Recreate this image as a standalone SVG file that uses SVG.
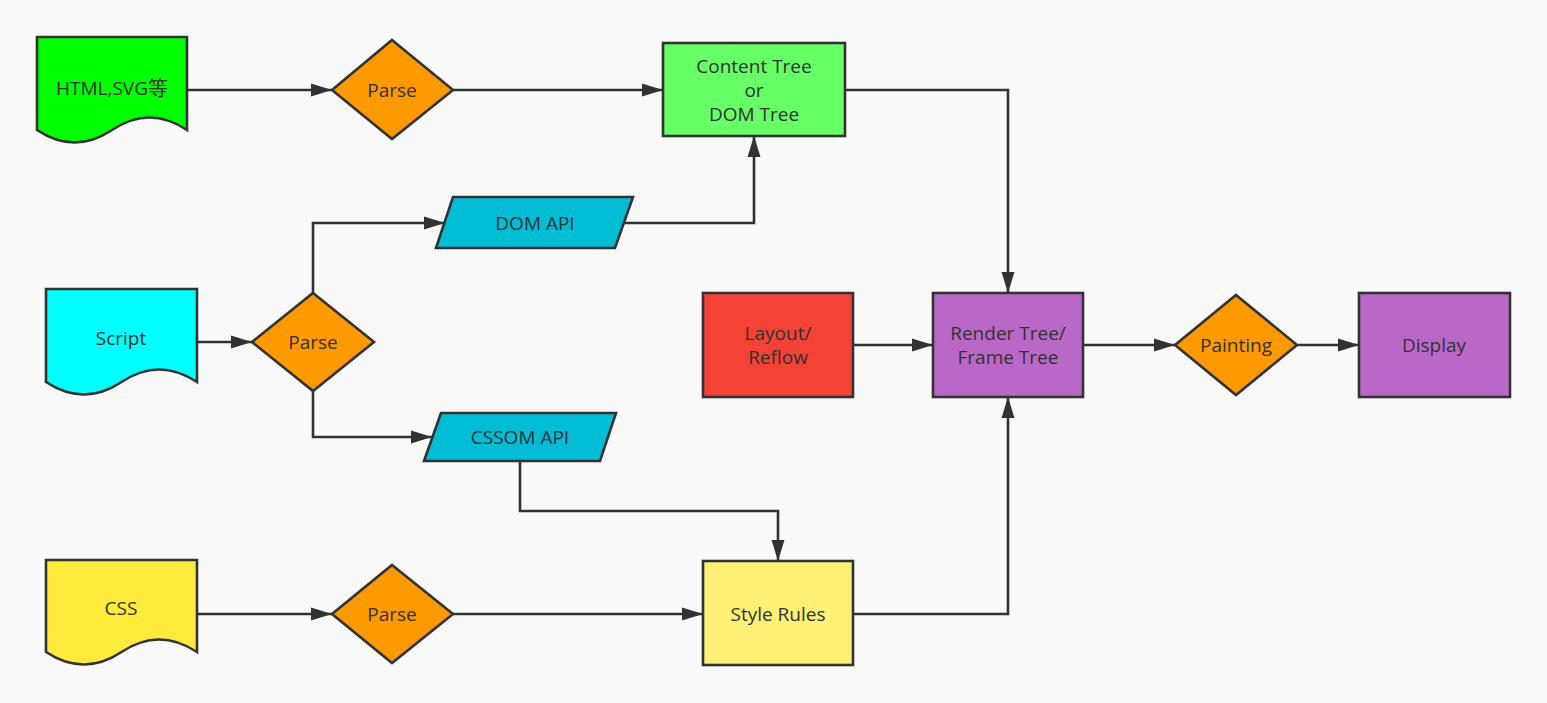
<svg xmlns="http://www.w3.org/2000/svg" width="1547" height="703" viewBox="0 0 1547 703">
<defs>
<marker id="arr" markerUnits="userSpaceOnUse" markerWidth="22" markerHeight="14" refX="21" refY="7" orient="auto">
<path d="M0,0.5 L21,7 L0,13.5 z" fill="#323232"/>
</marker>
<style>
.s{stroke:#323232;stroke-width:2.6}
.t{font-family:"Open Sans","Noto Sans","Noto Sans CJK SC",sans-serif;font-size:19px;fill:#323232;text-anchor:middle;dominant-baseline:central}
.c{fill:none;stroke:#323232;stroke-width:2.6;marker-end:url(#arr)}
</style>
</defs>
<rect width="1547" height="703" fill="#f9f9f9"/>
<g id="connectors">
<path class="c" d="M187,90 H332"/>
<path class="c" d="M453,90 H663"/>
<path class="c" d="M845,90 H1008 V293"/>
<path class="c" d="M313,293 V223 H445"/>
<path class="c" d="M624,223 H754 V136"/>
<path class="c" d="M313,391 V437 H432"/>
<path class="c" d="M520,461 V511 H778 V561"/>
<path class="c" d="M197,342 H252"/>
<path class="c" d="M197,614 H332"/>
<path class="c" d="M453,614 H703"/>
<path class="c" d="M853,614 H1008 V397"/>
<path class="c" d="M853,345 H933"/>
<path class="c" d="M1083,345 H1175"/>
<path class="c" d="M1297,345 H1359"/>
</g>
<g id="html">
<path class="s" fill="#00ff00" d="M37,37 H187 V130 Q149.5,105 112,130 Q74.5,155 37,130 Z"/>
<text class="t" x="112" y="88">HTML,SVG<tspan style="font-size:20px">等</tspan></text>
</g>
<g id="parse1">
<path class="s" fill="#ff9900" d="M392,40 L453,90 L392,139 L332,90 Z"/>
<text class="t" x="392" y="90">Parse</text>
</g>
<g id="content-tree">
<rect class="s" fill="#66ff66" x="663" y="43" width="182" height="93"/>
<text class="t" x="754" y="66">Content Tree</text>
<text class="t" x="754" y="90">or</text>
<text class="t" x="754" y="114">DOM Tree</text>
</g>
<g id="dom-api">
<path class="s" fill="#00bcd4" d="M453,197 H633 L615,248 H436 Z"/>
<text class="t" x="535" y="223">DOM API</text>
</g>
<g id="script">
<path class="s" fill="#00ffff" d="M46,289 H197 V382 Q159,357 121.5,382 Q84,407 46,382 Z"/>
<text class="t" x="121" y="338">Script</text>
</g>
<g id="parse2">
<path class="s" fill="#ff9900" d="M313,293 L374,342 L313,391 L252,342 Z"/>
<text class="t" x="313" y="342">Parse</text>
</g>
<g id="cssom-api">
<path class="s" fill="#00bcd4" d="M441,413 H616 L600,461 H424 Z"/>
<text class="t" x="520" y="437">CSSOM API</text>
</g>
<g id="css">
<path class="s" fill="#ffeb3b" d="M46,560 H197 V652 Q159,627 121.5,652 Q84,677 46,652 Z"/>
<text class="t" x="121" y="608">CSS</text>
</g>
<g id="parse3">
<path class="s" fill="#ff9900" d="M392,565 L453,614 L392,663 L332,614 Z"/>
<text class="t" x="392" y="614">Parse</text>
</g>
<g id="style-rules">
<rect class="s" fill="#fff176" x="703" y="561" width="150" height="104"/>
<text class="t" x="778" y="614">Style Rules</text>
</g>
<g id="layout">
<rect class="s" fill="#f44336" x="703" y="293" width="150" height="104"/>
<text class="t" x="778" y="333">Layout/</text>
<text class="t" x="778" y="357">Reflow</text>
</g>
<g id="render-tree">
<rect class="s" fill="#ba68c8" x="933" y="293" width="150" height="104"/>
<text class="t" x="1008" y="333">Render Tree/</text>
<text class="t" x="1008" y="357">Frame Tree</text>
</g>
<g id="painting">
<path class="s" fill="#ff9900" d="M1236,295 L1297,345 L1236,395 L1175,345 Z"/>
<text class="t" x="1236" y="345">Painting</text>
</g>
<g id="display">
<rect class="s" fill="#ba68c8" x="1359" y="293" width="151" height="104"/>
<text class="t" x="1434" y="345">Display</text>
</g>
</svg>
